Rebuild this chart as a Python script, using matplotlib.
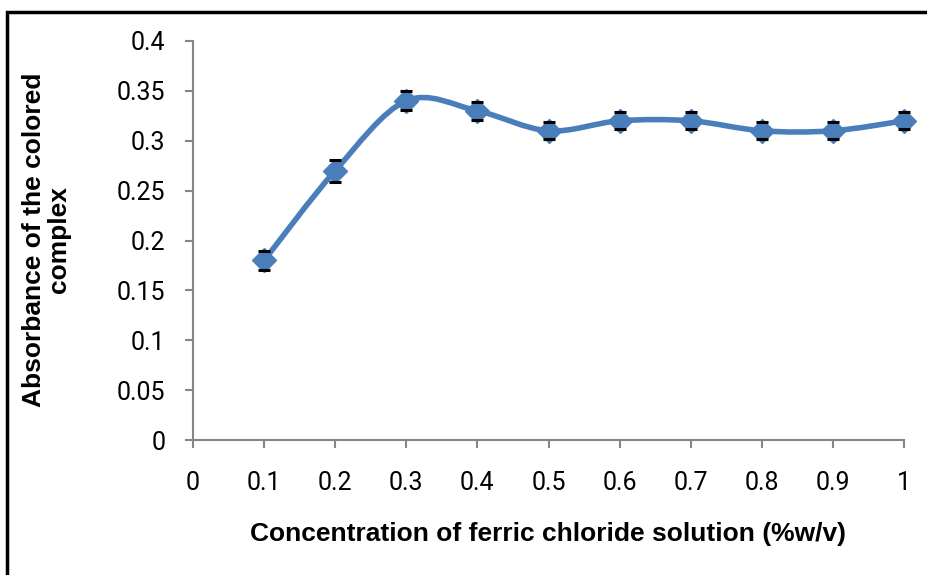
import numpy as np
import matplotlib
matplotlib.use("Agg")
import matplotlib.pyplot as plt
from matplotlib.path import Path
from matplotlib.patches import PathPatch, Rectangle

# data
conc = [0.1, 0.2, 0.3, 0.4, 0.5, 0.6, 0.7, 0.8, 0.9, 1.0]
absorb = [0.18, 0.27, 0.34, 0.33, 0.31, 0.32, 0.32, 0.31, 0.31, 0.32]
err = [0.0095, 0.011, 0.0095, 0.009, 0.0085, 0.0085, 0.0085, 0.0085, 0.0085, 0.0085]
xticks = [0, 0.1, 0.2, 0.3, 0.4, 0.5, 0.6, 0.7, 0.8, 0.9, 1]
yticks = [0, 0.05, 0.1, 0.15, 0.2, 0.25, 0.3, 0.35, 0.4]

blue = "#4a7ebb"
grey = "#868686"

fig = plt.figure(figsize=(9.27, 5.75), dpi=100)
ax = fig.add_axes([193 / 927, 1 - 440 / 575, (904 - 193) / 927, (440 - 41) / 575])

# smoothed line like Excel's (bezier through the points)
pts = np.column_stack([conc, absorb])
verts = [pts[0]]
codes = [Path.MOVETO]
n = len(pts)
for i in range(n - 1):
    p0 = pts[i - 1] if i > 0 else pts[i]
    p1 = pts[i]
    p2 = pts[i + 1]
    p3 = pts[i + 2] if i + 2 < n else pts[i + 1]
    c1 = p1 + (p2 - p0) / 6
    c2 = p2 - (p3 - p1) / 6
    verts += [c1, c2, p2]
    codes += [Path.CURVE4] * 3
ax.add_patch(PathPatch(Path(verts, codes), facecolor="none", edgecolor=blue,
                       lw=4, capstyle="round", joinstyle="round", zorder=2,
                       clip_on=False))

# bars sit under the diamonds, caps on top
_, caps, bars = ax.errorbar(conc, absorb, yerr=err, fmt="none", ecolor="black",
                            elinewidth=1.0, capsize=4.5, capthick=2.2, zorder=2.5,
                            clip_on=False)
for c in caps:
    c.set_zorder(4)
ax.plot(conc, absorb, ls="none", marker="D", ms=12.5, color=blue, zorder=3,
        clip_on=False)

ax.set_xlim(0, 1)
ax.set_ylim(0, 0.4)
ax.set_xticks(xticks)
ax.set_xticklabels([f"{t:g}" for t in xticks])
ax.set_yticks(yticks)
ax.set_yticklabels([f"{t:g}" for t in yticks])
for s in ["top", "right"]:
    ax.spines[s].set_visible(False)
for s in ["left", "bottom"]:
    ax.spines[s].set_color(grey)
    ax.spines[s].set_linewidth(1.5)
ax.tick_params(axis="both", direction="out", color=grey, width=1.5, length=6,
               labelsize=18, labelcolor="black")
ax.tick_params(axis="x", pad=16)
ax.tick_params(axis="y", pad=14)
for lab in ax.get_xticklabels() + ax.get_yticklabels():
    lab.set_family("Roboto")

ax.set_xlabel("Concentration of ferric chloride solution (%w/v)", family="Liberation Sans",
              fontsize=19, fontweight="bold", labelpad=20)
fig.text(0.050, 1 - 240 / 575, "Absorbance of the colored\ncomplex", rotation=90,
         ha="center", va="center", family="Liberation Sans", fontsize=19,
         fontweight="bold", linespacing=1.05)

# chart frame, only left and top visible
fig.patches.append(Rectangle((7 / 927, -0.1), 1.2, 1 - 12 / 575 + 0.1,
                             transform=fig.transFigure, fill=False,
                             edgecolor="black", lw=2.5))

fig.savefig("out.png", dpi=100)
